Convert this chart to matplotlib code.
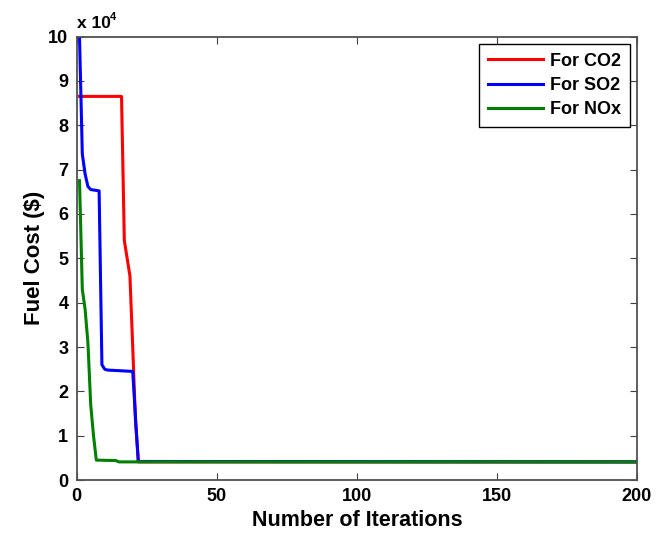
import numpy as np
import matplotlib
matplotlib.use('Agg')
import matplotlib.pyplot as plt

matplotlib.rcParams.update({'font.family': 'Liberation Sans', 'font.weight': 'bold'})

# breakpoints (iteration, fuel cost in $)
co2_iter = [1, 16, 17, 18, 19, 20, 21, 22, 200]
co2_cost = [86500, 86500, 54000, 50000, 46000, 30000, 13000, 4100, 4100]

so2_iter = [1, 2, 3, 4, 5, 8, 9, 10, 11, 20, 21, 22, 200]
so2_cost = [100000, 73500, 69000, 66200, 65500, 65200, 26000, 25000, 24800, 24500, 14000, 4200, 4100]

nox_iter = [1, 2, 3, 4, 5, 6, 7, 14, 15, 200]
nox_cost = [67500, 43000, 38500, 31000, 17000, 10000, 4500, 4400, 4100, 4100]

x_ticks = [0, 50, 100, 150, 200]
y_ticks = np.arange(0, 11) * 1e4
y_ticklabels = [str(v) for v in range(0, 11)]

fig = plt.figure(figsize=(6.67, 5.37), dpi=100, facecolor='white')
ax = fig.add_axes([0.115, 0.106, 0.840, 0.826])

ax.plot(co2_iter, co2_cost, color='#ff0000', lw=2.2, label='For CO2')
ax.plot(so2_iter, so2_cost, color='#0000ff', lw=2.2, label='For SO2')
ax.plot(nox_iter, nox_cost, color='#008000', lw=2.2, label='For NOx')

ax.set_xlim(0, 200)
ax.set_ylim(0, 1e5)
ax.set_xticks(x_ticks)
ax.set_yticks(y_ticks)
ax.set_yticklabels(y_ticklabels)
ax.tick_params(direction='in', top=True, right=True, labelsize=13, length=5,
               color='#404040', pad=6)
for s in ax.spines.values():
    s.set_color('#505050')
    s.set_linewidth(1.3)

ax.set_xlabel('Number of Iterations', fontsize=15.5, fontweight='bold', labelpad=3)
ax.set_ylabel('Fuel Cost ($)', fontsize=16, fontweight='bold', labelpad=2)

# MATLAB style exponent above the axis
ax.text(0.0, 1.012, 'x 10', transform=ax.transAxes, fontsize=12.5, fontweight='bold',
        ha='left', va='bottom')
ax.text(0.06, 1.032, '4', transform=ax.transAxes, fontsize=8, fontweight='bold',
        ha='left', va='bottom')

leg = ax.legend(loc='upper right', fontsize=13, fancybox=False, framealpha=1,
                edgecolor='black', handlelength=3.0, borderaxespad=0.4,
                labelspacing=0.4, handletextpad=0.4, borderpad=0.5)
leg.get_frame().set_linewidth(1.0)
for t in leg.get_texts():
    t.set_fontweight('bold')

fig.savefig('out.png', dpi=100, facecolor='white')
